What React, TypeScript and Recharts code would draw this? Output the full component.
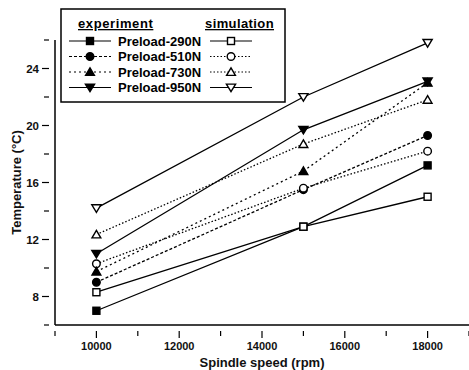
import { Line, LineChart, XAxis, YAxis, Label } from "recharts"

const speeds = [10000, 15000, 18000]
const exp290 = [7.0, 12.9, 17.2]
const sim290 = [8.3, 12.9, 15.0]
const exp510 = [9.0, 15.5, 19.3]
const sim510 = [10.3, 15.6, 18.2]
const exp730 = [9.75, 16.8, 23.0]
const sim730 = [12.35, 18.7, 21.8]
const exp950 = [11.0, 19.7, 23.1]
const sim950 = [14.2, 22.0, 25.8]

const xTicks = [9000, 10000, 11000, 12000, 13000, 14000, 15000, 16000, 17000, 18000, 19000]
const yTicks = [6, 8, 10, 12, 14, 16, 18, 20, 22, 24, 26]
const xLabels = [10000, 12000, 14000, 16000, 18000]
const yLabels = [8, 12, 16, 20, 24]

const data = speeds.map((s, i) => ({
  speed: s,
  exp290: exp290[i],
  sim290: sim290[i],
  exp510: exp510[i],
  sim510: sim510[i],
  exp730: exp730[i],
  sim730: sim730[i],
  exp950: exp950[i],
  sim950: sim950[i],
}))

type Shape = "square" | "circle" | "up" | "down"

const series: { key: string; label: string; shape: Shape; filled: boolean; dash?: string }[] = [
  { key: "exp290", label: "Preload-290N", shape: "square", filled: true },
  { key: "sim290", label: "Preload-290N", shape: "square", filled: false },
  { key: "exp510", label: "Preload-510N", shape: "circle", filled: true, dash: "3 2" },
  { key: "sim510", label: "Preload-510N", shape: "circle", filled: false, dash: "1.5 2" },
  { key: "exp730", label: "Preload-730N", shape: "up", filled: true, dash: "2 3" },
  { key: "sim730", label: "Preload-730N", shape: "up", filled: false, dash: "1.5 2" },
  { key: "exp950", label: "Preload-950N", shape: "down", filled: true },
  { key: "sim950", label: "Preload-950N", shape: "down", filled: false },
]

const font = "Liberation Sans, Arial, sans-serif"

function Marker({ cx, cy, shape, filled }: { cx: number; cy: number; shape: Shape; filled: boolean }) {
  const fill = filled ? "#000" : "#fff"
  const sw = 1.4
  if (shape === "square")
    return <rect x={cx - 3.5} y={cy - 3.5} width={7} height={7} fill={fill} stroke="#000" strokeWidth={sw} />
  if (shape === "circle") return <circle cx={cx} cy={cy} r={3.8} fill={fill} stroke="#000" strokeWidth={sw} />
  if (shape === "up")
    return <path d={`M${cx},${cy - 4.2}L${cx + 4.4},${cy + 3.4}L${cx - 4.4},${cy + 3.4}Z`} fill={fill} stroke="#000" strokeWidth={sw} />
  return <path d={`M${cx},${cy + 4.2}L${cx + 4.6},${cy - 3.4}L${cx - 4.6},${cy - 3.4}Z`} fill={fill} stroke="#000" strokeWidth={sw} />
}

const XTick = (props: any) => {
  const { x, y, payload } = props
  const major = xLabels.includes(payload.value)
  return (
    <g>
      <line x1={x} x2={x} y1={y - 2} y2={y + (major ? 5 : 3)} stroke="#000" strokeWidth={1.2} />
      {major && (
        <text x={x} y={y + 17} textAnchor="middle" fontSize={11} fontWeight="bold" fontFamily={font} fill="#111">
          {payload.value}
        </text>
      )}
    </g>
  )
}

const YTick = (props: any) => {
  const { x, y, payload } = props
  const major = yLabels.includes(payload.value)
  return (
    <g>
      <line x1={x + 2} x2={x - (major ? 5 : 3)} y1={y} y2={y} stroke="#000" strokeWidth={1.2} />
      {major && (
        <text x={x - 8} y={y + 4} textAnchor="end" fontSize={11.5} fontWeight="bold" fontFamily={font} fill="#111">
          {payload.value}
        </text>
      )}
    </g>
  )
}

function LegendSample({ x, y, shape, filled, dash }: { x: number; y: number; shape: Shape; filled: boolean; dash?: string }) {
  return (
    <g>
      <line x1={x} x2={x + 42} y1={y} y2={y} stroke="#000" strokeWidth={1.2} strokeDasharray={dash} />
      <Marker cx={x + 21} cy={y} shape={shape} filled={filled} />
    </g>
  )
}

function Legend() {
  const rows = [0, 2, 4, 6].map(i => ({ exp: series[i], sim: series[i + 1] }))
  return (
    <svg width={469} height={370} style={{ position: "absolute", left: 0, top: 0, pointerEvents: "none" }}>
      <rect x={61} y={9} width={224} height={93} fill="#fff" stroke="#000" strokeWidth={1.5} />
      <text x={78} y={28} fontSize={13} fontWeight="bold" fontFamily={font} textDecoration="underline" letterSpacing={0.6}>
        experiment
      </text>
      <text x={205} y={28} fontSize={13} fontWeight="bold" fontFamily={font} textDecoration="underline" letterSpacing={0.4}>
        simulation
      </text>
      {rows.map((r, i) => {
        const y = 41 + i * 15.5
        return (
          <g key={r.exp.key}>
            <LegendSample x={69} y={y} shape={r.exp.shape} filled={r.exp.filled} dash={r.exp.dash} />
            <text x={118} y={y + 4.5} fontSize={13} fontWeight="bold" fontFamily={font}>
              {r.exp.label}
            </text>
            <LegendSample x={210} y={y} shape={r.sim.shape} filled={r.sim.filled} dash={r.sim.dash} />
          </g>
        )
      })}
    </svg>
  )
}

export default function App() {
  return (
    <div style={{ position: "absolute", left: 0, top: 0, width: 469, height: 370, background: "#fff" }}>
      <LineChart width={469} height={370} data={data} margin={{ top: 40, right: 0, left: 0, bottom: 0 }}>
        <XAxis
          dataKey="speed"
          type="number"
          domain={[9000, 19000]}
          ticks={xTicks}
          interval={0}
          tick={<XTick />}
          tickLine={false}
          axisLine={{ stroke: "#000", strokeWidth: 1.5 }}
          height={45}
        >
          <Label value="Spindle speed (rpm)" position="insideBottom" offset={3} style={{ fontSize: 13, fontWeight: "bold", fontFamily: font, fill: "#111" }} />
        </XAxis>
        <YAxis
          type="number"
          domain={[6, 26]}
          ticks={yTicks}
          interval={0}
          tick={<YTick />}
          tickLine={false}
          axisLine={{ stroke: "#000", strokeWidth: 1.5 }}
          width={55}
        >
          <Label value="Temperature (°C)" angle={-90} position="insideLeft" offset={16} style={{ textAnchor: "middle", fontSize: 13, fontWeight: "bold", fontFamily: font, fill: "#111" }} />
        </YAxis>
        {series.map(s => (
          <Line
            key={s.key}
            dataKey={s.key}
            type="linear"
            stroke="#000"
            strokeWidth={1.3}
            strokeDasharray={s.dash}
            isAnimationActive={false}
            dot={(p: any) => <Marker key={`${s.key}-${p.index}`} cx={p.cx} cy={p.cy} shape={s.shape} filled={s.filled} />}
            activeDot={false}
          />
        ))}
      </LineChart>
      <Legend />
    </div>
  )
}
